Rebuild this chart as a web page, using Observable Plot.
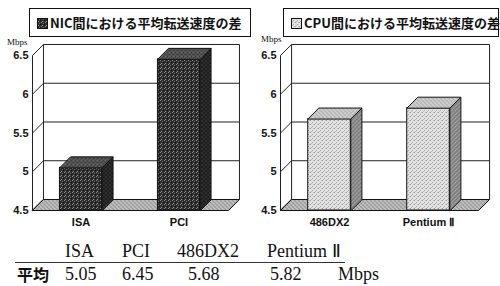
<!DOCTYPE html>
<html><head><meta charset="utf-8">
<script src="https://cdn.jsdelivr.net/npm/d3@7"></script>
<script src="https://cdn.jsdelivr.net/npm/@observablehq/plot@0.6"></script>
<style>
html,body{margin:0;padding:0;background:#fff;}
#page{position:relative;width:500px;height:286px;overflow:hidden;background:#fff;}
.chart{position:absolute;top:0;}
.titlebox{position:absolute;top:8px;height:29px;border:1px solid #111;box-sizing:border-box;
  font-family:"Noto Sans CJK JP",sans-serif;font-weight:700;font-size:13px;line-height:27px;color:#111;white-space:nowrap;padding-left:7px;}
.titlebox svg{vertical-align:-1px;margin-right:2px;}
.unit{position:absolute;font-family:"Liberation Serif",serif;font-size:9px;color:#111;}
.tcell{position:absolute;font-family:"Liberation Serif",serif;font-size:18px;line-height:17px;color:#111;white-space:nowrap;}
.jp{font-family:"Noto Sans CJK JP",sans-serif;font-weight:700;font-size:16px;}
</style></head>
<body>
<svg width="0" height="0" style="position:absolute">
<defs>
<pattern id="darkFront" width="4" height="4" patternUnits="userSpaceOnUse">
 <rect width="4" height="4" fill="#2c2c2c"/>
 <rect x="0" y="0" width="1" height="1" fill="#8a8a8a"/>
 <rect x="2" y="1" width="1" height="1" fill="#6a6a6a"/>
 <rect x="1" y="3" width="1" height="1" fill="#9a9a9a"/>
 <rect x="3" y="2" width="1" height="1" fill="#111"/>
</pattern>
<pattern id="darkTop" width="4" height="4" patternUnits="userSpaceOnUse">
 <rect width="4" height="4" fill="#3a3a3a"/>
 <rect x="0" y="0" width="1" height="1" fill="#9a9a9a"/>
 <rect x="2" y="1" width="1" height="1" fill="#7a7a7a"/>
 <rect x="1" y="3" width="1" height="1" fill="#aaa"/>
 <rect x="3" y="2" width="1" height="1" fill="#888"/>
</pattern>
<pattern id="darkSide" width="4" height="4" patternUnits="userSpaceOnUse">
 <rect width="4" height="4" fill="#1e1e1e"/>
 <rect x="1" y="0" width="1" height="1" fill="#666"/>
 <rect x="3" y="2" width="1" height="1" fill="#555"/>
</pattern>
<pattern id="lightFront" width="4" height="4" patternUnits="userSpaceOnUse">
 <rect width="4" height="4" fill="#e2e2e2"/>
 <rect x="0" y="0" width="1" height="1" fill="#999"/>
 <rect x="2" y="2" width="1" height="1" fill="#a5a5a5"/>
 <rect x="3" y="0" width="1" height="1" fill="#c0c0c0"/>
 <rect x="1" y="3" width="1" height="1" fill="#bbb"/>
</pattern>
<pattern id="lightTop" width="4" height="4" patternUnits="userSpaceOnUse">
 <rect width="4" height="4" fill="#d0d0d0"/>
 <rect x="0" y="0" width="1" height="1" fill="#888"/>
 <rect x="2" y="2" width="1" height="1" fill="#8c8c8c"/>
 <rect x="1" y="1" width="1" height="1" fill="#aaa"/>
 <rect x="3" y="3" width="1" height="1" fill="#aaa"/>
</pattern>
<pattern id="lightSide" width="4" height="4" patternUnits="userSpaceOnUse">
 <rect width="4" height="4" fill="#8e8e8e"/>
 <rect x="0" y="0" width="1" height="1" fill="#444"/>
 <rect x="2" y="2" width="1" height="1" fill="#444"/>
 <rect x="1" y="1" width="1" height="1" fill="#ccc"/>
 <rect x="3" y="3" width="1" height="1" fill="#bbb"/>
</pattern>
<pattern id="floorPat" width="4" height="4" patternUnits="userSpaceOnUse">
 <rect width="4" height="4" fill="#b4b4b4"/>
 <rect x="0" y="0" width="1" height="1" fill="#555"/>
 <rect x="2" y="2" width="1" height="1" fill="#555"/>
 <rect x="1" y="3" width="1" height="1" fill="#eee"/>
 <rect x="3" y="1" width="1" height="1" fill="#eee"/>
</pattern>
</defs>
</svg>
<div id="page"></div>
<script>
// ---- data ----
const nicTitle = "NIC間における平均転送速度の差";
const cpuTitle = "CPU間における平均転送速度の差";
const nicCategories = ["ISA", "PCI"];
const nicValues = [5.05, 6.45];
const cpuCategories = ["486DX2", "Pentium Ⅱ"];
const cpuValues = [5.68, 5.82];
const yTicks = [4.5, 5, 5.5, 6, 6.5];
const unitLabel = "Mbps";
const rowLabel = "平均";

// ---- drawing ----
const Y0 = 4.5, Y1 = 6.5;
const DX = 0.112, DY = 0.142;   // 3D depth offset in data units
const A = 0.28, B = 0.71;       // bar front face within band

function chart(categories, values, pal, marginLeft) {
  const data = categories.map((c, i) => ({i, c, v: values[i]}));
  const n = categories.length;
  const floor = [
    {x: 0, y: Y0}, {x: n, y: Y0}, {x: n + DX, y: Y0 + DY}, {x: DX, y: Y0 + DY}
  ];
  const wallDiag = yTicks.map(t => ({x1: 0, y1: t, x2: DX, y2: t + DY}));
  const grid = yTicks.filter(t => t > Y0).map(t => ({x1: DX, y1: t + DY, x2: n + DX, y2: t + DY}));
  const verticals = [
    {x1: 0, y1: Y0, x2: 0, y2: Y1},
    {x1: DX, y1: Y0 + DY, x2: DX, y2: Y1 + DY},
    {x1: n + DX, y1: Y0 + DY, x2: n + DX, y2: Y1 + DY}
  ];
  const tops = data.flatMap(d => [
    {z: d.i, x: d.i + A, y: d.v}, {z: d.i, x: d.i + B, y: d.v},
    {z: d.i, x: d.i + B + DX, y: d.v + DY}, {z: d.i, x: d.i + A + DX, y: d.v + DY}
  ]);
  const sides = data.flatMap(d => [
    {z: d.i, x: d.i + B, y: Y0}, {z: d.i, x: d.i + B, y: d.v},
    {z: d.i, x: d.i + B + DX, y: d.v + DY}, {z: d.i, x: d.i + B + DX, y: Y0 + DY}
  ]);
  return Plot.plot({
    width: 250, height: 232,
    marginLeft, marginRight: 22, marginTop: 55, marginBottom: 22,
    style: {background: "transparent", fontFamily: "'Liberation Sans', Arial, sans-serif", fontSize: "11px", fontWeight: "bold", color: "#111", overflow: "visible"},
    x: {domain: [0, n], axis: null},
    y: {domain: [Y0, Y1], ticks: yTicks, tickFormat: d => String(d), tickSize: 0, tickPadding: 4, label: null},
    marks: [
      Plot.line(floor, {x: "x", y: "y", curve: "linear-closed", fill: "url(#floorPat)", stroke: "#111", strokeWidth: 1}),
      Plot.link(grid, {x1: "x1", y1: "y1", x2: "x2", y2: "y2", stroke: "#222", strokeWidth: 1}),
      Plot.link(wallDiag, {x1: "x1", y1: "y1", x2: "x2", y2: "y2", stroke: "#222", strokeWidth: 1}),
      Plot.link(verticals, {x1: "x1", y1: "y1", x2: "x2", y2: "y2", stroke: "#222", strokeWidth: 1}),
      Plot.rect(data, {x1: d => d.i + A, x2: d => d.i + B, y1: () => Y0, y2: d => d.v, fill: pal.front, stroke: "#111", strokeWidth: 1}),
      Plot.line(sides, {x: "x", y: "y", z: "z", curve: "linear-closed", fill: pal.side, stroke: "#111", strokeWidth: 1}),
      Plot.line(tops, {x: "x", y: "y", z: "z", curve: "linear-closed", fill: pal.top, stroke: "#111", strokeWidth: 1}),
      Plot.text(data, {x: d => d.i + (A + B) / 2, y: () => Y0, text: "c", dy: 12, fontWeight: "bold", fontSize: 11, fill: "#111"})
    ]
  });
}

const page = document.getElementById("page");
const dark = {front: "url(#darkFront)", top: "url(#darkTop)", side: "url(#darkSide)"};
const light = {front: "url(#lightFront)", top: "url(#lightTop)", side: "url(#lightSide)"};

const c1 = chart(nicCategories, nicValues, dark, 32);
c1.classList.add("chart"); c1.style.left = "0px";
page.appendChild(c1);
const c2 = chart(cpuCategories, cpuValues, light, 30);
c2.classList.add("chart"); c2.style.left = "250px";
page.appendChild(c2);

function titleBox(text, fillId, left, width) {
  const d = document.createElement("div");
  d.className = "titlebox";
  d.style.left = left + "px"; d.style.width = width + "px";
  d.innerHTML = `<svg width="11" height="11"><rect x="0.5" y="0.5" width="10" height="10" fill="url(#${fillId})" stroke="#111"/></svg>`;
  d.appendChild(document.createTextNode(text));
  page.appendChild(d);
}
titleBox(nicTitle, "darkFront", 29, 222);
titleBox(cpuTitle, "lightFront", 283, 216);

function unit(left, top) {
  const u = document.createElement("div");
  u.className = "unit"; u.textContent = unitLabel;
  u.style.left = left + "px"; u.style.top = top + "px";
  page.appendChild(u);
}
unit(7, 37); unit(261, 34);

// table below
const headers = [...nicCategories, ...cpuCategories];
const vals = [...nicValues, ...cpuValues];
const headX = [65, 122, 177, 267];
const valX = [65, 122, 188, 270];
function cell(text, left, top, cls) {
  const s = document.createElement("div");
  s.className = "tcell" + (cls ? " " + cls : "");
  s.textContent = text; s.style.left = left + "px"; s.style.top = top + "px";
  page.appendChild(s);
}
headers.forEach((h, i) => cell(h, headX[i], 243));
const rule = document.createElement("div");
rule.style.cssText = "position:absolute;left:15px;top:262px;width:330px;height:1px;background:#333;";
page.appendChild(rule);
cell(rowLabel, 17, 266, "jp");
vals.forEach((v, i) => cell(v.toFixed(2), valX[i], 266));
cell(unitLabel, 338, 266);
</script>
</body></html>
